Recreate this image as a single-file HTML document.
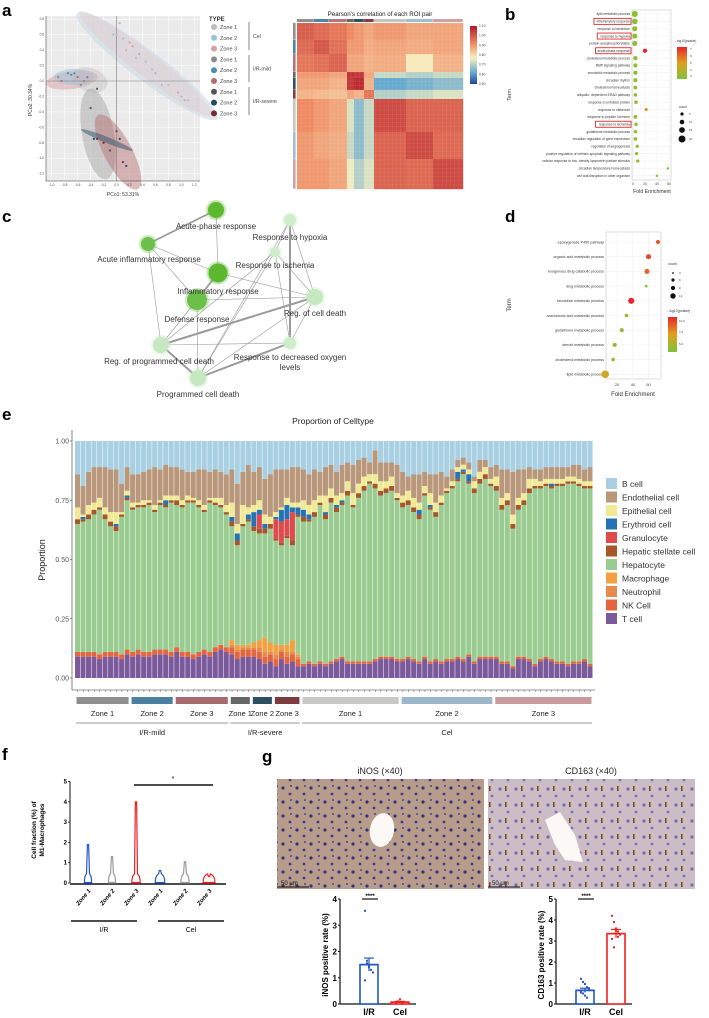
<!DOCTYPE html>
<html><head><meta charset="utf-8">
<style>
html,body{margin:0;padding:0;background:#fff;}
svg{display:block;font-family:"Liberation Sans",sans-serif;}
</style></head>
<body>
<svg id="fig" width="709" height="1018" viewBox="0 0 709 1018">
<defs>
<linearGradient id="hmgrad" x1="0" y1="0" x2="0" y2="1">
<stop offset="0" stop-color="#b2182b"/><stop offset="0.3" stop-color="#ef8a62"/><stop offset="0.55" stop-color="#f7f0c0"/><stop offset="0.8" stop-color="#67a9cf"/><stop offset="1" stop-color="#2144a0"/></linearGradient>
<linearGradient id="pgrad" x1="0" y1="0" x2="0" y2="1">
<stop offset="0" stop-color="#e8262a"/><stop offset="0.5" stop-color="#e0a020"/><stop offset="1" stop-color="#7cc43a"/></linearGradient>
<pattern id="ihcA" width="14" height="14" patternUnits="userSpaceOnUse"><rect width="14" height="14" fill="#b79c8c"/><circle cx="3" cy="4" r="1.6" fill="#33337a"/><circle cx="10" cy="10" r="1.4" fill="#3d3d88"/><circle cx="11" cy="2" r="1" fill="#4a4a90"/></pattern>
<pattern id="ihcB" width="16" height="16" patternUnits="userSpaceOnUse"><rect width="16" height="16" fill="#cbbcc6"/><circle cx="4" cy="5" r="1.6" fill="#6f6fb0"/><circle cx="12" cy="12" r="1.4" fill="#7676b8"/><rect x="9" y="2" width="1.5" height="5" fill="#7a3a12"/></pattern>
</defs>
<g id="panelA"></g>
<g id="panelB"></g>
<g id="panelC"></g>
<g id="panelD"></g>
<g id="panelE"></g>
<g id="panelF"></g>
<g id="panelG"></g>
</svg>
<script>
// ===== Panel e data (values in %) =====
const groupNames = ["I/R-mild","I/R-severe","Cel"];
const zoneLabels = ["Zone 1","Zone 2","Zone 3","Zone 1","Zone 2","Zone 3","Zone 1","Zone 2","Zone 3"];
const zoneSizes = [10,8,10,4,4,5,18,17,18];
const cellTypes = ["T cell","NK Cell","Neutrophil","Macrophage","Hepatocyte","Hepatic stellate cell","Granulocyte","Erythroid cell","Epithelial cell","Endothelial cell","B cell"];
const tcell = [9,9,9,9,8,9,9,9,8,10, 9,10,9,9,10,10,10,9, 11,9,9,8,9,10,9,11,12,11, 10,8,9,9, 9,8,6,7, 5,8,6,7,5, 5,6,5,6,5,6,7,8,6,6,6,6,6,7,8,8,8,7, 7,8,7,6,8,6,7,6,7,7,8,7,9,6,8,8,8, 8,6,6,4,8,8,7,5,7,8,7,6,6,5,6,6,7,5];
const nkcell = [2,2,2,2,2,2,2,2,2,2, 2,2,2,2,2,2,2,2, 2,2,2,2,2,2,2,2,2,2, 3,3,3,3, 3,3,3,3, 3,3,3,3,3, 1,1,1,1,1,1,1,1,1,1,1,1,1,1,1,1,1,1, 1,1,1,1,1,1,1,1,1,1,1,1,1,1,1,1,1, 1,1,1,1,1,1,1,1,1,1,1,1,1,1,1,1,1,1];
const neutro = [0,0,0,0,0,0,0,0,0,0, 0,0,0,0,0,0,0,0, 0,0,0,0,0,0,0,0,0,0, 1,1,1,1, 1,2,2,1, 2,1,2,1,1, 0,0,0,0,0,0,0,0,0,0,0,0,0,0,0,0,0,0, 0,0,0,0,0,0,0,0,0,0,0,0,0,0,0,0,0, 0,0,0,0,0,0,0,0,0,0,0,0,0,0,0,0,0,0];
const macro = [0,0,0,0,0,0,0,0,0,0, 0,0,0,0,0,0,0,0, 0,0,0,0,0,0,0,0,0,0, 2,2,1,1, 2,3,6,4, 4,2,3,5,1, 0,0,0,0,0,0,0,0,0,0,0,0,0,0,0,0,0,0, 0,0,0,0,0,0,0,0,0,0,0,0,0,0,0,0,0, 0,0,0,0,0,0,0,0,0,0,0,0,0,0,0,0,0,0];
const hepato = [54,55,56,58,61,56,53,51,58,63, 60,60,61,62,58,61,60,63, 60,61,63,64,61,58,63,60,58,56, 48,42,50,52, 47,45,44,48, 44,42,45,40,58, 60,59,62,66,61,67,62,64,70,65,69,72,75,72,68,69,70,67, 64,64,62,60,68,64,60,66,70,72,74,78,72,71,73,75,72, 70,64,66,58,62,64,70,74,72,72,72,74,74,76,75,74,72,74];
const hsc = [2,1,2,2,1,2,2,2,1,1, 1,1,1,1,1,1,1,1, 2,1,1,1,1,1,1,1,1,1, 2,2,1,1, 2,2,2,2, 1,1,1,2,1, 2,1,2,1,2,2,2,1,2,1,2,2,1,2,2,2,2,1, 2,2,2,2,1,1,2,1,1,1,1,1,1,2,2,2,1, 2,2,2,2,2,2,2,1,1,1,1,1,1,1,1,1,1,1];
const gran = [0,0,0,0,0,0,0,0,0,0, 0,0,0,0,0,0,0,0, 0,0,0,0,0,0,0,0,0,0, 0,0,0,0, 0,6,0,0, 8,9,7,12,0, 0,0,0,0,0,0,0,0,0,0,0,0,0,0,0,0,0,0, 0,0,0,0,0,0,0,0,0,0,0,0,0,0,0,0,0, 0,0,0,0,0,0,0,0,0,0,0,0,0,0,0,0,0,0];
const ery = [0,1,0,0,0,0,0,1,0,1, 0,0,0,0,0,0,2,0, 0,0,0,0,0,0,0,0,0,0, 2,3,0,2, 6,2,2,0, 1,5,6,2,3, 3,2,0,0,1,0,1,1,0,0,0,0,0,0,0,0,0,0, 0,0,0,2,0,1,0,0,0,0,3,1,3,0,0,0,0, 0,0,0,0,0,0,0,0,0,0,1,0,0,0,0,0,0,0];
const epi = [5,1,4,3,4,3,4,5,1,2, 2,1,2,1,2,1,2,2, 2,2,2,1,2,2,1,2,3,3, 6,4,8,3, 3,4,4,3, 2,1,3,2,2, 4,4,5,3,7,4,4,3,4,5,4,4,3,4,4,3,4,2, 3,4,4,3,3,5,4,3,1,2,2,2,2,3,3,3,2, 4,3,3,4,3,3,4,3,2,2,2,2,2,2,2,2,2,2];
const endo = [14,12,14,15,13,17,18,18,12,10, 12,12,12,13,16,13,13,12, 12,13,10,11,13,15,11,12,11,13, 14,17,14,18, 14,14,15,18, 18,16,12,15,15, 13,13,13,10,12,10,10,12,8,12,10,8,5,10,8,8,6,12, 10,6,10,12,6,8,12,10,5,5,3,3,3,2,5,3,5, 5,12,10,18,12,10,5,4,5,5,5,5,5,4,5,6,5,6];
const eTicks = [0,0.25,0.5,0.75,1.0];
const eTickLabels = ["0.00","0.25","0.50","0.75","1.00"];

// ===== Panel b data =====
const bTerms = ["lipid metabolic process","inflammatory response","response to bacterium","response to hypoxia","protein autophosphorylation","acute-phase response","cholesterol metabolic process","BMP signaling pathway","xenobiotic metabolic process","circadian rhythm","cholesterol homeostasis","ubiquitin- dependent ERAD pathway","response to unfolded protein","response to stilbenoid","response to peptide hormone","response to ischemia","glutathione metabolic process","circadian regulation of gene expression","regulation of angiogenesis","positive regulation of intrinsic apoptotic signaling pathway","cellular response to low- density lipoprotein particle stimulus","circadian temperature homeostasis","cell wall disruption in other organism"];
const bFE = [3,3,3,3,3,20,4,4,4,4,4,4,5,22,4,5,4,4,7,6,8,58,40];
const bCount = [16,14,12,12,12,9,9,8,8,8,7,6,6,4,7,6,6,6,5,5,5,2,2];
const bLogP = [3,3,3,3,3,7.5,3,3,3,3,3,3,3,5.5,3,3,3,3,3,3,3,2.5,2.5];
const bBoxed = [1,3,5,15];
const bTicks = [0,20,40,60];

// ===== Panel d data =====
const dTerms = ["epoxygenase P450 pathway","organic acid metabolic process","exogenous drug catabolic process","drug metabolic process","xenobiotic metabolic process","arachidonic acid metabolic process","glutathione metabolic process","steroid metabolic process","cholesterol metabolic process","lipid metabolic process"];
const dFE = [72,60,58,57,38,32,26,17,15,5];
const dCount = [5,7,7,2,9,4,5,5,4,12];
const dLogP = [11,11.5,10.5,3,13,4,4,4,4,7];
const dTicks = [20,40,60];

// ===== Panel a data =====
const heatGroups = ["mild-z1","mild-z2","mild-z3","sev-z1","sev-z2","sev-z3","cel-z1","cel-z2","cel-z3"];
const heatGroupColors = ["#8f8f8f","#4a86a8","#b87479","#666","#2d5268","#8a3c40","#c4c4c4","#9ebfd6","#d0a0a4"];
const heatColW = [17,15,18,7,10,10,32,27,30];
const heatRowH = [17,14,18,6,12,9,33,27,30];
const heatBlocks = [
 [0.99,0.97,0.95,0.92,0.9,0.88,0.9,0.88,0.88],
 [0.97,1.0,0.96,0.9,0.9,0.87,0.88,0.87,0.88],
 [0.95,0.96,0.98,0.88,0.88,0.86,0.87,0.78,0.86],
 [0.9,0.9,0.88,1.06,1.05,0.88,0.72,0.7,0.72],
 [0.88,0.88,0.86,1.05,1.07,0.86,0.62,0.64,0.66],
 [0.86,0.85,0.84,0.88,0.86,0.95,0.7,0.72,0.74],
 [0.92,0.9,0.88,0.74,0.66,0.72,1.02,0.98,0.98],
 [0.9,0.88,0.87,0.72,0.66,0.72,0.98,1.02,0.97],
 [0.9,0.9,0.88,0.76,0.7,0.74,0.98,0.97,1.02]];
const heatTicks = [1.1,1.0,0.9,0.8,0.7,0.6,0.5];
const pcoTypes = ["Zone 1","Zone 2","Zone 3","Zone 1","Zone 2","Zone 3","Zone 1","Zone 2","Zone 3"];
const pcoColors = ["#bdbdbd","#9ac4d9","#d9a0a3","#8c8c8c","#4b8fb0","#b56a6d","#555","#224a60","#7a2a2e"];
const pcoX = [0.05,0.1,0.2,0.3,0.45,0.6,0.8,1.0,1.05,-0.05,0.15,0.35,0.55,0.7,0.95,1.1,0.0,0.25,0.5,-0.9,-0.75,-0.6,-0.5,-0.65,-0.85,-0.55,-0.7,-0.45,-0.3,-0.4,-0.35,-0.2,-0.1,0.05,0.1,0.15,-0.3,0.0];
const pcoY = [0.75,0.55,0.5,0.3,0.25,0.1,-0.05,-0.2,-0.25,0.6,0.4,0.35,0.15,-0.05,-0.15,-0.25,0.6,0.45,0.0,0.05,0.1,0.05,0.0,0.1,0.0,-0.05,0.08,0.05,-0.1,-0.35,-0.75,-0.8,-0.9,-0.75,-1.05,-1.1,-0.75,-0.65];
const pcoGrp = [0,1,2,0,1,2,0,1,2,1,0,2,0,1,2,1,0,2,0,3,4,5,3,4,5,3,4,5,6,6,7,8,6,7,8,7,8,6];

// ===== Panel f data =====
const fZones = ["Zone 1","Zone 2","Zone 3","Zone 1","Zone 2","Zone 3"];
const fMax = [1.9,1.3,4.0,0.62,1.05,0.32];
const fBaseW = [0.6,0.6,0.7,0.8,0.7,1.0];
const fColors = ["#2357c4","#9a9a9a","#ee2222","#2357c4","#9a9a9a","#ee2222"];
const fTicks = [0,1,2,3,4,5];

// ===== Panel g data =====
const gCats = ["I/R","Cel"];
const inosMean = [1.5,0.07];
const inosSem = [0.25,0.03];
const inosPtsIR = [3.55,1.55,1.4,1.3,1.2,0.9,1.65,1.45];
const inosPtsCel = [0.05,0.1,0.18,0.06,0.08,0.04];
const cdMean = [0.65,3.35];
const cdSem = [0.1,0.2];
const cdPtsIR = [1.2,1.05,0.95,0.8,0.7,0.6,0.5,0.4,0.3,0.75,0.55];
const cdPtsCel = [4.2,3.9,3.6,3.45,3.3,3.1,2.7,3.5,3.2];

const NS="http://www.w3.org/2000/svg";
function mk(parent,tag,attrs,text){const e=document.createElementNS(NS,tag);for(const k in attrs)e.setAttribute(k,attrs[k]);if(text!==undefined)e.textContent=text;parent.appendChild(e);return e;}
function lerp(a,b,t){return a+(b-a)*t;}
function hexRGB(h){return [parseInt(h.substr(1,2),16),parseInt(h.substr(3,2),16),parseInt(h.substr(5,2),16)];}
function rampColor(stops,t){t=Math.max(0,Math.min(1,t));for(let i=0;i<stops.length-1;i++){if(t<=stops[i+1][0]){const u=(t-stops[i][0])/(stops[i+1][0]-stops[i][0]);const a=hexRGB(stops[i][1]),b=hexRGB(stops[i+1][1]);return "rgb("+a.map((v,j)=>Math.round(lerp(v,b[j],u))).join(",")+")";}}return stops[stops.length-1][1];}
const heatStops=[[0,"#2144a0"],[0.2,"#67a9cf"],[0.45,"#f7f0c0"],[0.7,"#ef8a62"],[1,"#b2182b"]];
const pStops=[[0,"#7cc43a"],[0.5,"#e0a020"],[1,"#e8262a"]];

const svg=document.getElementById('fig');
[["a",2,16],["b",505,20],["c",2,222],["d",505,222],["e",2,420],["f",2,760],["g",262,762]].forEach(p=>{
 const t=mk(svg,'text',{x:p[1],y:p[2],'font-size':17,'font-weight':'bold'},p[0]);
 
 
});

// ---------- Panel A ----------
(function(){
 const g=document.getElementById('panelA');
 const X0=46,X1=200,Y0=16,Y1=181;
 const px=v=>116.5+v*64.8, py=v=>81-v*77.2;
 const bg=mk(g,'rect',{x:X0,y:Y0,width:X1-X0,height:Y1-Y0,fill:'#ebebeb'});
 
 
 for(let k=-10;k<=12;k+=2){const v=k/10;mk(g,'line',{x1:px(v),x2:px(v),y1:Y0,y2:Y1,stroke:'#fff','stroke-width':0.5});}
 for(let k=-12;k<=8;k+=2){const v=k/10;mk(g,'line',{x1:X0,x2:X1,y1:py(v),y2:py(v),stroke:'#fff','stroke-width':0.5});}
 const ells=[[147,66,88,15,37,"#c9dce6",0.6],[146,64,84,12,38,"#e6c9cb",0.4],[72,80,26,9,-8,"#d9a0a3",0.5],[74,77,20,8,0,"#9ac4d9",0.5],[90,80,18,12,20,"#bbb",0.4],[98,134,16,46,-10,"#a8a8a8",0.5],[118,152,42,14,62,"#b56a6d",0.45],[107,140,28,3,22,"#2d5268",0.5]];
 ells.forEach((e,i)=>{const el=mk(g,'ellipse',{cx:e[0],cy:e[1],rx:e[2],ry:e[3],transform:`rotate(${e[4]} ${e[0]} ${e[1]})`,fill:e[5],'fill-opacity':e[6]});
  
  });
 mk(g,'line',{x1:px(0),x2:px(0),y1:Y0,y2:Y1,stroke:'#777','stroke-width':0.6});
 mk(g,'line',{x1:X0,x2:X1,y1:py(0),y2:py(0),stroke:'#777','stroke-width':0.6});
 pcoX.forEach((v,i)=>{const c=mk(g,'circle',{cx:px(v),cy:py(pcoY[i]),r:1.1,fill:pcoColors[pcoGrp[i]]});
  
  });
 mk(g,'line',{x1:X0,x2:X0,y1:Y0,y2:Y1,stroke:'#333','stroke-width':0.5});
 mk(g,'line',{x1:X0,x2:X1,y1:Y1,y2:Y1,stroke:'#333','stroke-width':0.5});
 for(let k=-10;k<=12;k+=2){const v=k/10;mk(g,'text',{x:px(v),y:Y1+5,'font-size':3.2,'text-anchor':'middle',fill:'#444'},v.toFixed(1));}
 for(let k=-12;k<=8;k+=2){const v=k/10;mk(g,'text',{x:X0-2,y:py(v)+1,'font-size':3.2,'text-anchor':'end',fill:'#444'},v.toFixed(1));}
 const xl=mk(g,'text',{x:123,y:196,'font-size':5,'text-anchor':'middle',fill:'#333'},'PCo1: 53.31%');
 
 
 const yl=mk(g,'text',{x:32,y:100,'font-size':5,'text-anchor':'middle',fill:'#333',transform:'rotate(-90 32 100)'},'PCo2: 30.34%');
 
 
 const lt=mk(g,'text',{x:209,y:21,'font-size':6,'font-weight':'bold',fill:'#333'},'TYPE');
 
 
 pcoTypes.forEach((z,i)=>{const y=27+i*10.8;
  const c=mk(g,'circle',{cx:214,cy:y,r:3,fill:pcoColors[i]});
  
  
  mk(g,'text',{x:220,y:y+2,'font-size':5.5,fill:'#444'},z);});
 [["Cel",22,50],["I/R-mild",55,82],["I/R-severe",87,115]].forEach(b=>{
  mk(g,'line',{x1:249,x2:249,y1:b[1],y2:b[2],stroke:'#333','stroke-width':0.6});
  const t=mk(g,'text',{x:253,y:(b[1]+b[2])/2+2,'font-size':5.2,fill:'#444'},b[0]);
  
  });
 const ht=mk(g,'text',{x:380,y:16,'font-size':6.2,'text-anchor':'middle',fill:'#222'},"Pearson's correlation of each ROI pair");
 
 
 const HX=297,HY=23,scx=166/heatColW.reduce((a,b)=>a+b,0),scy=166/heatRowH.reduce((a,b)=>a+b,0);
 let cx=HX;
 const cxs=[];heatColW.forEach(w=>{cxs.push(cx);cx+=w*scx;});cxs.push(cx);
 let cy=HY;const cys=[];heatRowH.forEach(h=>{cys.push(cy);cy+=h*scy;});cys.push(cy);
 heatGroups.forEach((gname,i)=>{
  const tb=mk(g,'rect',{x:cxs[i],y:19,width:cxs[i+1]-cxs[i]-0.3,height:3,fill:heatGroupColors[i]});
  
  
  const lb=mk(g,'rect',{x:293,y:cys[i],width:2.6,height:cys[i+1]-cys[i]-0.3,fill:heatGroupColors[i]});
  
  
 });
 heatBlocks.forEach((row,i)=>row.forEach((v,j)=>{
  const r=mk(g,'rect',{x:cxs[j],y:cys[i],width:cxs[j+1]-cxs[j]+0.2,height:cys[i+1]-cys[i]+0.2,fill:rampColor(heatStops,(v-0.5)/0.6)});
  
  
 }));
 for(let k=0;k<40;k++){mk(g,'line',{x1:HX+k*4.15,x2:HX+k*4.15,y1:HY,y2:HY+166,stroke:'#fff','stroke-opacity':0.12,'stroke-width':0.5});mk(g,'line',{x1:HX,x2:HX+166,y1:HY+k*4.15,y2:HY+k*4.15,stroke:'#fff','stroke-opacity':0.12,'stroke-width':0.5});}
 const cb=mk(g,'rect',{x:470,y:26,width:7,height:58,fill:'url(#hmgrad)'});
 
 
 heatTicks.forEach(v=>{const y=26+(1.1-v)/0.6*58;mk(g,'text',{x:479,y:y+1,'font-size':3.3,fill:'#444'},v.toFixed(2));});
})();

// ---------- Panel B ----------
(function(){
 const g=document.getElementById('panelB');
 const X0=632,X1=671,Y0=10,Y1=180;
 const px=v=>633+v*0.6,py=i=>14+i*7.35;
 const fr=mk(g,'rect',{x:X0,y:Y0,width:X1-X0,height:Y1-Y0,fill:'#fff',stroke:'#bbb','stroke-width':0.5});
 
 
 bTicks.forEach(v=>{mk(g,'line',{x1:px(v),x2:px(v),y1:Y0,y2:Y1,stroke:'#eee','stroke-width':0.5});mk(g,'text',{x:px(v),y:185,'font-size':3.4,'text-anchor':'middle',fill:'#444'},v);});
 bTerms.forEach((t,i)=>{const y=py(i);
  mk(g,'line',{x1:X0,x2:X1,y1:y,y2:y,stroke:'#eee','stroke-width':0.5});
  const tx=mk(g,'text',{x:X0-2,y:y+1.2,'font-size':3.3,'text-anchor':'end',fill:'#333'},t);
  
  
  const d=mk(g,'circle',{cx:px(bFE[i]),cy:y,r:1.0+bCount[i]*0.13,fill:rampColor(pStops,(bLogP[i]-2.5)/5)});
  
  
 });
 bBoxed.forEach(i=>{const w=bTerms[i].length*1.62+2;const bx=mk(g,'rect',{x:X0-2-w,y:py(i)-3,width:w+1,height:6,fill:'none',stroke:'#e01010','stroke-width':0.8});
  
  });
 mk(g,'text',{x:652,y:193,'font-size':5.2,'text-anchor':'middle',fill:'#333'},'Fold Enrichment');
 mk(g,'text',{x:511,y:95,'font-size':5.2,'text-anchor':'middle',fill:'#333',transform:'rotate(-90 511 95)'},'Term');
 mk(g,'text',{x:675,y:42,'font-size':3.2,fill:'#333'},'- log10(pvalue)');
 const gb=mk(g,'rect',{x:677,y:47,width:10,height:32,fill:'url(#pgrad)'});
 
 
 [["7",50],["6",57],["5",64],["4",71],["3",77]].forEach(l=>mk(g,'text',{x:690,y:l[1],'font-size':3,fill:'#444'},l[0]));
 mk(g,'text',{x:679,y:108,'font-size':3.2,fill:'#333'},'count');
 [[5,1.6,114],[10,2.3,122],[15,2.9,130],[20,3.5,139]].forEach(l=>{mk(g,'circle',{cx:682,cy:l[2],r:l[1],fill:'#111'});mk(g,'text',{x:689,y:l[2]+1.2,'font-size':3,fill:'#444'},l[0]);});
})();

// ---------- Panel C (network) ----------
(function(){
 const g=document.getElementById('panelC');
 const nodes=[["Acute-phase response",216,210,8,"#5cb82e",216,229],["Response to hypoxia",290,220,6,"#cfeccb",290,240],["Acute inflammatory response",148,244,7,"#6cc04a",149,262],["Response to ischemia",275,252,5,"#cfeccb",275,268],["Inflammatory response",218,273,9.5,"#5cb82e",218,294],["Defense response",197,300,10,"#6cc04a",197,322],["Reg. of cell death",315,297,8,"#c6e8c0",315,316],["Reg. of programmed cell death",161,345,8,"#c6e8c0",159,364],["Response to decreased oxygen",290,343,6,"#cfeccb",290,360],["Programmed cell death",198,378,8,"#c6e8c0",198,397]];
 const edges=[[0,2,1.8],[0,4,0.6],[2,4,0.6],[2,5,0.6],[4,5,1.8],[1,3,0.6],[1,6,0.6],[1,8,2.0],[3,6,0.6],[3,7,0.6],[3,9,0.6],[5,6,0.6],[5,7,0.6],[5,9,0.6],[6,7,2.0],[6,8,0.6],[6,9,0.6],[7,8,0.6],[7,9,2.0],[8,9,2.0],[4,7,0.6],[4,6,0.6],[1,9,0.6],[2,7,0.6],[8,3,0.6]];
 edges.forEach(e=>{const a=nodes[e[0]],b=nodes[e[1]];const l=mk(g,'line',{x1:a[1],y1:a[2],x2:b[1],y2:b[2],stroke:'#9a9a9a','stroke-width':e[2]});
  
  });
 nodes.forEach(n=>{mk(g,'circle',{cx:n[1],cy:n[2],r:n[3]+2,fill:n[4],'fill-opacity':0.35});
  const c=mk(g,'circle',{cx:n[1],cy:n[2],r:n[3],fill:n[4]});
  
  });
 nodes.forEach(n=>{const t=mk(g,'text',{x:n[5],y:n[6],'font-size':8,'text-anchor':'middle',fill:'#333'},n[0]);
  
  });
 mk(g,'text',{x:290,y:370,'font-size':8,'text-anchor':'middle',fill:'#333'},'levels');
})();

// ---------- Panel D ----------
(function(){
 const g=document.getElementById('panelD');
 const X0=606,X1=661,Y0=232,Y1=379;
 const px=v=>601.3+v*0.7875,py=i=>242+i*14.7;
 const fr=mk(g,'rect',{x:X0,y:Y0,width:X1-X0,height:Y1-Y0,fill:'#fff',stroke:'#bbb','stroke-width':0.5});
 
 
 dTicks.forEach(v=>{mk(g,'line',{x1:px(v),x2:px(v),y1:Y0,y2:Y1,stroke:'#eee','stroke-width':0.5});mk(g,'text',{x:px(v),y:386,'font-size':4,'text-anchor':'middle',fill:'#444'},v);});
 dTerms.forEach((t,i)=>{const y=py(i);
  mk(g,'line',{x1:X0,x2:X1,y1:y,y2:y,stroke:'#eee','stroke-width':0.5});
  const tx=mk(g,'text',{x:X0-2,y:y+1.3,'font-size':3.7,'text-anchor':'end',fill:'#333'},t);
  
  
  const d=mk(g,'circle',{cx:px(dFE[i]),cy:y,r:0.8+dCount[i]*0.25,fill:rampColor(pStops,(dLogP[i]-3)/10)});
  
  });
 mk(g,'text',{x:633,y:396,'font-size':6,'text-anchor':'middle',fill:'#333'},'Fold Enrichment');
 mk(g,'text',{x:511,y:305,'font-size':6,'text-anchor':'middle',fill:'#333',transform:'rotate(-90 511 305)'},'Term');
 mk(g,'text',{x:668,y:265,'font-size':3.5,fill:'#333'},'count');
 [[3,0.9,273],[6,1.6,280],[9,2.1,288],[12,2.7,296]].forEach(l=>{mk(g,'circle',{cx:673,cy:l[2],r:l[1],fill:'#111'});mk(g,'text',{x:679,y:l[2]+1.2,'font-size':3,fill:'#444'},l[0]);});
 mk(g,'text',{x:667,y:312,'font-size':3.5,fill:'#333'},'- log10(pvalue)');
 const gb=mk(g,'rect',{x:668,y:317,width:9,height:35,fill:'url(#pgrad)'});
 
 
 [["10.0",322],["7.5",333],["5.0",345]].forEach(l=>mk(g,'text',{x:679,y:l[1],'font-size':3,fill:'#444'},l[0]));
})();

// ---------- Panel E ----------
(function(){
 const g=document.getElementById('panelE');
 const n=tcell.length;const X0=75,X1=593,step=(X1-X0)/n;
 const py=v=>678-v*237;
 const colors=["#7b5a9c","#e5663e","#e58b4e","#f3a040","#9acc92","#a65628","#df4a4d","#2572b4","#f1ea94","#b9977a","#a9cfe2"];
 const series=[tcell,nkcell,neutro,macro,hepato,hsc,gran,ery,epi,endo];
 const t=mk(g,'text',{x:333,y:424,'font-size':8.5,'text-anchor':'middle',fill:'#222'},'Proportion of Celltype');
 
 
 for(let i=0;i<n;i++){
  let cum=0;const x=X0+i*step;
  const vals=series.map(s=>s[i]/100);
  vals.push(Math.max(0,1-vals.reduce((a,b)=>a+b,0)));
  vals.forEach((v,k)=>{if(v<=0)return;
   const r=mk(g,'rect',{x:x,y:py(cum+v),width:step-0.5,height:v*237,fill:colors[k]});
   
   
   cum+=v;});
  mk(g,'line',{x1:x+step/2,x2:x+step/2,y1:690,y2:692,stroke:'#333','stroke-width':0.4});
 }
 mk(g,'line',{x1:72,x2:72,y1:430,y2:690,stroke:'#333','stroke-width':0.6});
 mk(g,'line',{x1:72,x2:595,y1:690,y2:690,stroke:'#333','stroke-width':0.6});
 eTicks.forEach((v,i)=>{mk(g,'line',{x1:70,x2:72,y1:py(v),y2:py(v),stroke:'#333','stroke-width':0.5});
  const tl=mk(g,'text',{x:69,y:py(v)+2.5,'font-size':7,'text-anchor':'end',fill:'#555'},eTickLabels[i]);
  
  });
 const yl=mk(g,'text',{x:45,y:560,'font-size':9,'text-anchor':'middle',fill:'#222',transform:'rotate(-90 45 560)'},'Proportion');
 
 
 const order=["B cell","Endothelial cell","Epithelial cell","Erythroid cell","Granulocyte","Hepatic stellate cell","Hepatocyte","Macrophage","Neutrophil","NK Cell","T cell"];
 order.forEach((name,i)=>{const y=484+i*13.5;
  const k=cellTypes.indexOf(name);
  const b=mk(g,'rect',{x:606,y:y-6,width:11,height:11,fill:colors[k]});
  
  
  mk(g,'text',{x:622,y:y+3,'font-size':8.5,fill:'#333'},name);});
 const zcol=["#8f8f8f","#4a7fa0","#a86a6e","#666","#2e4e63","#7d3b3e","#c8c8c4","#9cb7cb","#c99a9c"];
 let idx=0;const zx=[];
 zoneSizes.forEach((s,z)=>{const x0=X0+idx*step,x1=X0+(idx+s)*step;zx.push([x0,x1]);
  const r=mk(g,'rect',{x:x0+1.5,y:697,width:x1-x0-3,height:7,fill:zcol[z]});
  
  
  const tx=mk(g,'text',{x:(x0+x1)/2,y:716,'font-size':7.5,'text-anchor':'middle',fill:'#222'},zoneLabels[z]);
  
  
  idx+=s;});
 [[0,2],[3,5],[6,8]].forEach((r,i)=>{const x0=zx[r[0]][0],x1=zx[r[1]][1];
  mk(g,'line',{x1:x0+1,x2:x1-1,y1:723,y2:723,stroke:'#333','stroke-width':0.6});
  const tx=mk(g,'text',{x:(x0+x1)/2,y:735,'font-size':7.5,'text-anchor':'middle',fill:'#222'},groupNames[i]);
  
  });
})();

// ---------- Panel F ----------
(function(){
 const g=document.getElementById('panelF');
 const X0=70,X1=226,py=v=>883-v*20.3;
 const xs=[88,112,136,160,185,209];
 mk(g,'line',{x1:X0,x2:X0,y1:py(5),y2:py(0),stroke:'#111','stroke-width':1});
 mk(g,'line',{x1:X0,x2:X1,y1:py(0)+1,y2:py(0)+1,stroke:'#111','stroke-width':1.4});
 fTicks.forEach(v=>{mk(g,'line',{x1:X0-2,x2:X0,y1:py(v),y2:py(v),stroke:'#111','stroke-width':0.8});mk(g,'text',{x:X0-3,y:py(v)+2,'font-size':6,'font-weight':'bold','text-anchor':'end'},v);});
 fMax.forEach((m,i)=>{const x=xs[i],w=fBaseW[i]*12;
  const d=`M${x-w/2},${py(0)} Q${x-w/2},${py(0.35)} ${x-1.5},${py(0.45)} L${x-0.6},${py(m)} L${x+0.6},${py(m)} L${x+1.5},${py(0.45)} Q${x+w/2},${py(0.35)} ${x+w/2},${py(0)} Z`;
  const v=mk(g,'path',{d:d,fill:'none',stroke:fColors[i],'stroke-width':1.2});
  
  
  mk(g,'line',{x1:x-w/2,x2:x+w/2,y1:py(0)-0.5,y2:py(0)-0.5,stroke:fColors[i],'stroke-width':1.2});
  const t=mk(g,'text',{x:0,y:0,'font-size':6,'font-style':'italic','font-weight':'bold','text-anchor':'end',transform:`translate(${x+3},${py(0)+8}) rotate(-50)`},fZones[i]);
  
  });
 mk(g,'line',{x1:134,x2:213,y1:785,y2:785,stroke:'#111','stroke-width':1.5});
 mk(g,'text',{x:173,y:781,'font-size':7,'text-anchor':'middle'},'*');
 mk(g,'line',{x1:71,x2:137,y1:921,y2:921,stroke:'#111','stroke-width':1.6});
 mk(g,'line',{x1:158,x2:224,y1:921,y2:921,stroke:'#111','stroke-width':1.6});
 mk(g,'text',{x:104,y:932,'font-size':7,'text-anchor':'middle'},'I/R');
 mk(g,'text',{x:191,y:932,'font-size':7,'text-anchor':'middle'},'Cel');
 const yl=mk(g,'text',{x:0,y:0,'font-size':6.5,'font-weight':'bold','text-anchor':'middle',transform:'translate(36,830) rotate(-90)'},'Cell fraction (%) of');
 
 
 mk(g,'text',{x:0,y:0,'font-size':6.5,'font-weight':'bold','text-anchor':'middle',transform:'translate(44,830) rotate(-90)'},'M1-Macrophages');
})();

// ---------- Panel G ----------
(function(){
 const g=document.getElementById('panelG');
 [["iNOS (×40)",380,277,"ihcA"],["CD163 (×40)",591,488,"ihcB"]].forEach((p,i)=>{
  const t=mk(g,'text',{x:p[1],y:774,'font-size':9,'text-anchor':'middle',fill:'#222'},p[0]);
  
  
  const im=mk(g,'rect',{x:p[2],y:779,width:207,height:110,fill:'url(#'+p[3]+')'});
  
  
  if(i==0)mk(g,'ellipse',{cx:382,cy:830,rx:12,ry:17,fill:'#fbf8f6',transform:'rotate(10 382 830)'});
  else mk(g,'path',{d:'M545,820 L560,812 L575,835 L583,862 L565,860 L555,845 Z',fill:'#fbf8f6'});
  mk(g,'line',{x1:p[2],x2:p[2]+32,y1:887,y2:887,stroke:'#111','stroke-width':1});
  mk(g,'text',{x:p[2]+4,y:885,'font-size':6,fill:'#111'},'50 μm');
 });
 function barChart(X0,yMax,tickMax,means,sems,ptsA,ptsB,label,name){
  const py=v=>1004-v*(105/yMax);
  const xs=[369,400];const cols=["#2357c4","#ee2222"];
  mk(g,'line',{x1:X0,x2:X0,y1:py(yMax),y2:1004,stroke:'#111','stroke-width':1.2});
  mk(g,'line',{x1:X0,x2:X0+76,y1:1004,y2:1004,stroke:'#111','stroke-width':1.2});
  for(let v=0;v<=tickMax;v++){mk(g,'line',{x1:X0-2,x2:X0,y1:py(v),y2:py(v),stroke:'#111','stroke-width':1});mk(g,'text',{x:X0-3,y:py(v)+3,'font-size':8,'font-weight':'bold','text-anchor':'end'},v);}
  means.forEach((m,i)=>{const x=X0+xs[i]-340;
   const b=mk(g,'rect',{x:x-9,y:py(m),width:18,height:1004-py(m),fill:'#fff',stroke:cols[i],'stroke-width':1.6});
   
   
   mk(g,'line',{x1:x,x2:x,y1:py(m+sems[i]),y2:py(m-sems[i]),stroke:cols[i],'stroke-width':1.2});
   mk(g,'line',{x1:x-5,x2:x+5,y1:py(m+sems[i]),y2:py(m+sems[i]),stroke:cols[i],'stroke-width':1.2});
   mk(g,'line',{x1:x-9,x2:x+9,y1:py(m),y2:py(m),stroke:cols[i],'stroke-width':1.6});
   (i==0?ptsA:ptsB).forEach((p,k)=>{const d=mk(g,'rect',{x:x-4+(k%5)*2-1,y:py(p)-1,width:2,height:2,fill:cols[i]});
    
    });
   mk(g,'text',{x:x,y:1015,'font-size':9,'font-weight':'bold','text-anchor':'middle'},gCats[i]);});
  mk(g,'line',{x1:X0+22,x2:X0+38,y1:899,y2:899,stroke:'#111','stroke-width':1.2});
  mk(g,'text',{x:X0+30,y:898,'font-size':6,'font-weight':'bold','text-anchor':'middle'},'****');
  const yl=mk(g,'text',{x:0,y:0,'font-size':8,'font-weight':'bold','text-anchor':'middle',transform:`translate(${X0-12},955) rotate(-90)`},label);
  
  
 }
 barChart(340,4,4,inosMean,inosSem,inosPtsIR,inosPtsCel,'iNOS positive rate (%)','inos');
 barChart(556,5,5,cdMean,cdSem,cdPtsIR,cdPtsCel,'CD163 positive rate (%)','cd163');
})();
</script>
</body></html>
